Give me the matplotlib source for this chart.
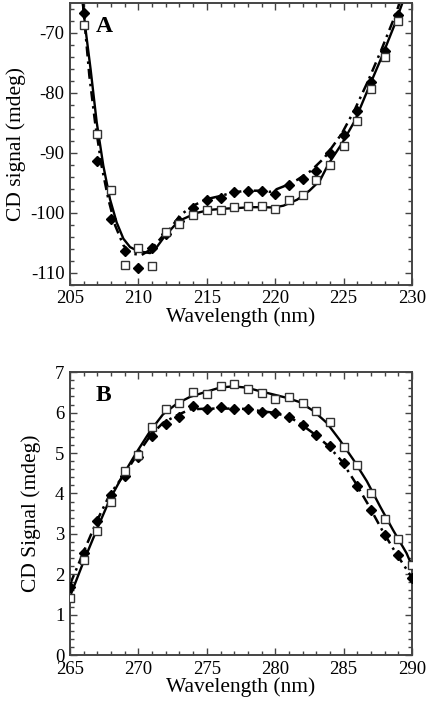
"""Recreate CD spectra figure (panels A and B) with fitted curves."""
import matplotlib

matplotlib.use("Agg")
import matplotlib.pyplot as plt
from matplotlib.ticker import MultipleLocator

plt.rcParams["font.family"] = ["Liberation Serif", "DejaVu Serif"]
plt.rcParams["axes.unicode_minus"] = False

# ---- panel A: far-UV (205-230 nm) ----
wl_a = list(range(206, 230))
a_open = [-68.7, -86.8, -96.2, -108.6, -105.9, -108.9, -103.1, -101.9, -100.3,
          -99.5, -99.6, -99.1, -98.9, -98.8, -99.3, -97.9, -97.1, -94.6,
          -92.1, -88.8, -84.7, -79.3, -74.0, -68.0]
a_filled = [-66.7, -91.4, -101.0, -106.4, -109.1, -105.9, -103.5, -101.3, -99.2,
            -97.9, -97.5, -96.6, -96.3, -96.4, -96.8, -95.3, -94.3, -93.1,
            -90.0, -87.0, -83.1, -78.2, -73.1, -67.0]

# fitted curves
fit_a_open_x = [205.93, 206.1, 206.5, 206.95, 207.43, 207.92, 208.41, 208.9, 209.39,
                210.0, 210.85, 211.34, 211.95, 212.8, 213.28, 214.26, 215.23, 216.2,
                217.2, 218.16, 219.1, 219.87, 220.6, 221.6, 222.5, 223.27, 223.9,
                224.86, 225.83, 226.8, 227.78, 228.75, 229.36]
fit_a_open_y = [-64.8, -68.8, -76.0, -84.9, -92.1, -97.7, -101.6, -104.3, -105.7,
                -106.4, -106.7, -105.7, -103.8, -101.7, -101.0, -100.0, -99.5, -99.3,
                -99.2, -99.05, -99.05, -99.1, -98.8, -97.8, -96.3, -94.6, -91.8,
                -88.5, -84.6, -79.3, -74.05, -68.5, -64.6]
fit_a_filled_x = [205.93, 206.41, 206.83, 207.3, 207.8, 208.3, 208.9, 209.5, 210.24,
                  210.97, 211.7, 212.3, 213.04, 214.0, 214.99, 215.96, 216.9, 217.9,
                  218.9, 219.6, 220.6, 221.6, 222.6, 223.6, 224.86, 225.83, 226.8,
                  227.78, 228.75, 229.2]
fit_a_filled_y = [-64.8, -77.1, -84.9, -92.1, -97.7, -102.1, -105.4, -106.8, -107.0,
                  -106.0, -104.05, -102.7, -100.4, -98.8, -97.7, -97.2, -96.6, -96.3,
                  -96.3, -96.5, -95.6, -94.5, -93.0, -90.8, -86.8, -82.7, -77.95,
                  -72.7, -67.2, -64.3]

# ---- panel B: near-UV (265-290 nm) ----
wl_b = list(range(265, 291))
b_open = [1.42, 2.36, 3.08, 3.79, 4.55, 4.94, 5.64, 6.10, 6.23, 6.51, 6.45, 6.66, 6.72,
          6.58, 6.49, 6.34, 6.39, 6.23, 6.04, 5.77, 5.15, 4.71, 4.00, 3.37, 2.87, 2.23]
b_filled = [1.69, 2.52, 3.31, 3.95, 4.43, 4.90, 5.42, 5.72, 5.90, 6.16, 6.08, 6.15, 6.08,
            6.10, 6.02, 6.00, 5.89, 5.69, 5.44, 5.17, 4.76, 4.18, 3.60, 2.98, 2.48, 1.90]

fit_b_open_x = [265.0, 266.0, 266.95, 267.9, 268.9, 269.87, 270.85, 271.8, 272.8, 273.77,
                274.7, 275.96, 276.9, 277.9, 278.9, 279.86, 280.8, 281.8, 282.8, 283.76,
                284.7, 285.7, 286.7, 287.66, 288.6, 289.6, 290.0]
fit_b_open_y = [1.45, 2.32, 3.10, 3.85, 4.47, 5.02, 5.54, 5.96, 6.22, 6.39,
                6.49, 6.62, 6.65, 6.62, 6.53, 6.45, 6.37, 6.26, 6.04, 5.75,
                5.33, 4.84, 4.30, 3.68, 3.10, 2.52, 2.20]
fit_b_filled_x = [265.0, 266.0, 266.95, 267.9, 268.9, 269.87, 270.85, 271.8, 272.8, 273.77,
                  275.0, 276.0, 277.0, 278.0, 278.9, 279.86, 281.0, 281.9, 282.9, 283.9,
                  284.86, 285.8, 286.8, 287.8, 288.75, 289.85, 290.0]
fit_b_filled_y = [1.75, 2.56, 3.31, 3.97, 4.44, 4.94, 5.42, 5.75, 5.93, 6.08,
                  6.10, 6.10, 6.10, 6.09, 6.04, 6.00, 5.90, 5.71, 5.46, 5.17,
                  4.80, 4.30, 3.72, 3.10, 2.56, 1.99, 1.90]

SPINE = "#444444"
DASHDOT = (0, (4, 2, 1, 2))


def style_axes(ax, xlim, ylim, ymajor, yminor):
    ax.set_xlim(*xlim)
    ax.set_ylim(*ylim)
    ax.xaxis.set_major_locator(MultipleLocator(5))
    ax.xaxis.set_minor_locator(MultipleLocator(1))
    ax.yaxis.set_major_locator(MultipleLocator(ymajor))
    ax.yaxis.set_minor_locator(MultipleLocator(yminor))
    ax.tick_params(which="both", direction="in", top=True, right=True,
                   color=SPINE, width=1.0, labelsize=13.5, pad=4)
    ax.tick_params(which="major", length=5)
    ax.tick_params(which="minor", length=3)
    for sp in ax.spines.values():
        sp.set_color(SPINE)
        sp.set_linewidth(1.4)
    ax.set_xlabel("Wavelength (nm)", fontsize=15.5, labelpad=0)


def draw_panel(ax, wl, y_open, y_filled, fo_x, fo_y, ff_x, ff_y):
    ax.plot(fo_x, fo_y, color="black", lw=1.7, zorder=2)
    ax.plot(ff_x, ff_y, color="black", lw=1.8, ls=DASHDOT, zorder=2)
    ax.plot(wl, y_filled, ls="none", marker="D", ms=4.8, color="black", zorder=3)
    ax.plot(wl, y_open, ls="none", marker="s", ms=6.0, mfc="white", mec="#333333",
            mew=1.0, zorder=4)


fig = plt.figure(figsize=(4.27, 7.07), dpi=100)

ax_a = fig.add_axes([0.164, 0.597, 0.801, 0.399])
draw_panel(ax_a, wl_a, a_open, a_filled, fit_a_open_x, fit_a_open_y,
           fit_a_filled_x, fit_a_filled_y)
style_axes(ax_a, (205, 230), (-112, -65), 10, 2)
ax_a.set_ylabel("CD signal (mdeg)", fontsize=15.5, labelpad=3)
ax_a.text(0.075, 0.955, "A", transform=ax_a.transAxes, fontsize=17,
          fontweight="bold", va="top", ha="left")

ax_b = fig.add_axes([0.164, 0.0735, 0.801, 0.400])
draw_panel(ax_b, wl_b, b_open, b_filled, fit_b_open_x, fit_b_open_y,
           fit_b_filled_x, fit_b_filled_y)
style_axes(ax_b, (265, 290), (0, 7), 1, 0.2)
ax_b.set_ylabel("CD Signal (mdeg)", fontsize=15.5, labelpad=10)
ax_b.text(0.075, 0.955, "B", transform=ax_b.transAxes, fontsize=17,
          fontweight="bold", va="top", ha="left")

fig.savefig("out.png", dpi=100)
